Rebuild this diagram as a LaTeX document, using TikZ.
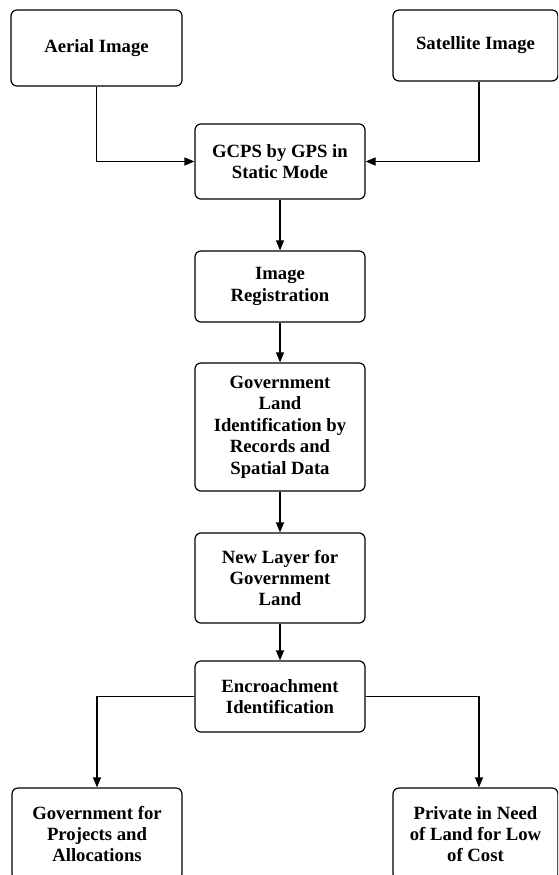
\documentclass[tikz,border=0pt]{standalone}
\usepackage{fontspec}
\setmainfont{Liberation Serif}
\usetikzlibrary{arrows.meta}

\begin{document}
\begin{tikzpicture}[x=1pt,y=-1pt,
    box/.style={rectangle,draw,rounded corners=6pt,line width=1.2pt,align=center,
        inner sep=0pt,font=\fontsize{18.7}{21.4}\selectfont\bfseries},
    flow/.style={-{Triangle[length=10pt,width=8pt]},line width=1.2pt}]
    \clip (0,0) rectangle (558,875);
    \node (aer) [box,minimum width=171pt,minimum height=76pt] at (96.5,48) {Aerial Image};
    \node (sat) [box,minimum width=165pt,minimum height=71pt] at (475.5,45.5) {Satellite Image};
    \node (gcp) [box,minimum width=170pt,minimum height=75pt] at (280,161.5) {GCPS by GPS in\\Static Mode};
    \node (reg) [box,minimum width=170pt,minimum height=71pt] at (280,286.5) {Image\\Registration};
    \node (land) [box,minimum width=170pt,minimum height=128pt] at (280,427) {Government\\Land\\Identification by\\Records and\\Spatial Data};
    \node (layer) [box,minimum width=170pt,minimum height=90pt] at (280,578) {New Layer for\\Government\\Land};
    \node (enc) [box,minimum width=170pt,minimum height=71pt] at (280,696.5) {Encroachment\\Identification};
    \node (gov) [box,minimum width=170pt,minimum height=92pt] at (97,834) {Government for\\Projects and\\Allocations};
    \node (priv) [box,minimum width=165pt,minimum height=92pt] at (475.5,834) {Private in Need\\of Land for Low\\of Cost};
    \draw [flow] (aer) |- (gcp);
    \draw [flow] ([xshift=3.5pt]sat.south) |- (gcp);
    \draw [flow] (gcp) -- (reg);
    \draw [flow] (reg) -- (land);
    \draw [flow] (land) -- (layer);
    \draw [flow] (layer) -- (enc);
    \draw [flow] (enc) -| (gov);
    \draw [flow] (enc) -| ([xshift=3.5pt]priv.north);
\end{tikzpicture}
\end{document}
